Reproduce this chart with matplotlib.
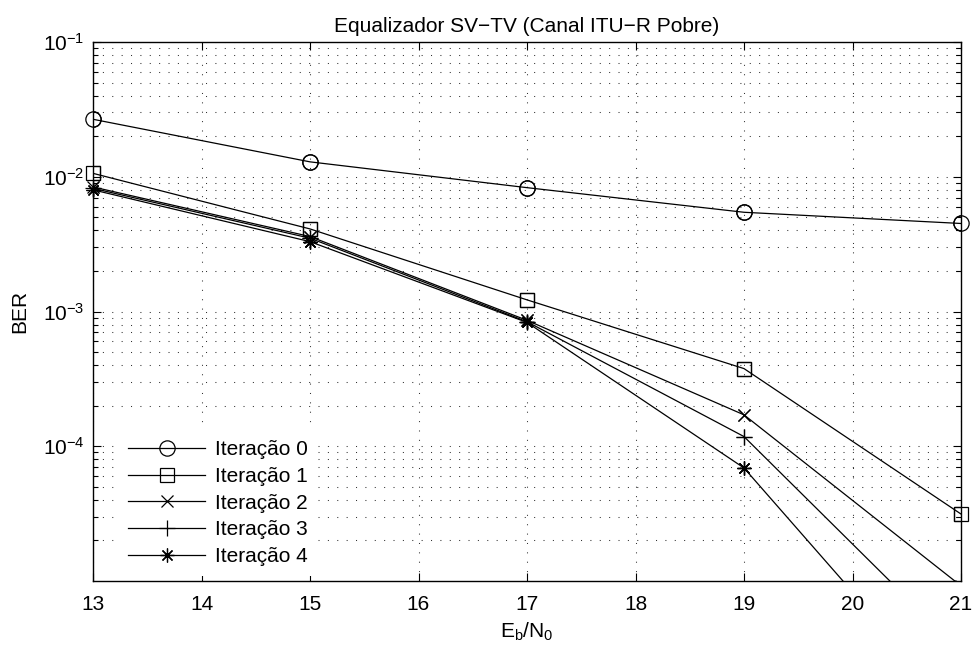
import numpy as np
import matplotlib
matplotlib.use('Agg')
import matplotlib.pyplot as plt
from matplotlib.ticker import LogLocator, FixedLocator, NullFormatter

plt.rcParams['font.family'] = ['Liberation Sans', 'DejaVu Sans']
plt.rcParams['mathtext.fontset'] = 'custom'
plt.rcParams['mathtext.rm'] = 'Liberation Sans'
plt.rcParams['mathtext.it'] = 'Liberation Sans'
plt.rcParams['axes.unicode_minus'] = True

# dados (Eb/N0 em dB, BER por iteracao)
ebn0 = [13, 15, 17, 19, 21]
ber_it0 = [2.67e-2, 1.29e-2, 8.3e-3, 5.45e-3, 4.5e-3]
ber_it1 = [1.06e-2, 4.1e-3, 1.22e-3, 3.77e-4, 3.14e-5]
ber_it2 = [8.4e-3, 3.6e-3, 8.6e-4, 1.71e-4, 9.2e-6]
ber_it3 = [8.2e-3, 3.5e-3, 8.4e-4, 1.18e-4, 3.0e-6]
ber_it4 = [8.0e-3, 3.3e-3, 8.3e-4, 6.9e-5, 1.0e-6]

series = [ber_it0, ber_it1, ber_it2, ber_it3, ber_it4]
labels = ['Iteração 0', 'Iteração 1', 'Iteração 2', 'Iteração 3', 'Iteração 4']
markers = ['o', 's', 'x', '+', (8, 2, 0)]
msizes = [11, 9.5, 8.5, 11, 10]

FS = 15
ymin, ymax = 1e-5, 1e-1

fig = plt.figure(figsize=(9.74, 6.52), dpi=100)
ax = fig.add_axes([93/974, 71/652, 868/974, 539/652])

for y, lab, m, ms in zip(series, labels, markers, msizes):
    # linha (recortada) + marcadores sem recorte, como no MATLAB
    ax.semilogy(ebn0, y, color='k', lw=0.9, marker=m, ms=ms,
                mfc='none', mec='k', mew=0.9, label=lab)
    yv = np.ma.masked_less(np.array(y), ymin)
    ax.semilogy(ebn0, yv, ls='none', marker=m, ms=ms, mfc='none',
                mec='k', mew=0.9, clip_on=False)

ax.set_xlim(13, 21)
ax.set_ylim(ymin, ymax)
ax.set_xticks(range(13, 22))
ax.yaxis.set_major_locator(FixedLocator([1e-4, 1e-3, 1e-2, 1e-1]))
ax.yaxis.set_minor_locator(LogLocator(base=10, subs=np.arange(2, 10)))
ax.yaxis.set_minor_formatter(NullFormatter())

grid_style = dict(color='0.2', linestyle=(0, (1, 8)), linewidth=0.75)
ax.grid(True, which='major', axis='both', **grid_style)
ax.grid(True, which='minor', axis='y', **grid_style)

ax.tick_params(which='both', direction='in', top=True, right=True,
               labelsize=FS, width=0.8)
ax.tick_params(which='major', length=6)
ax.tick_params(which='minor', length=3.5)
ax.tick_params(axis='x', pad=10)
ax.tick_params(axis='y', pad=6)
for s in ax.spines.values():
    s.set_linewidth(1.0)

ax.set_title('Equalizador SV\u2212TV (Canal ITU\u2212R Pobre)', fontsize=FS, pad=7.5)
ax.set_ylabel('BER', fontsize=FS, labelpad=10)
ax.set_xlabel(r'$\mathregular{E_b/N_0}$', fontsize=FS, labelpad=5)

# legenda com fundo branco, sem borda
leg = ax.legend(loc='lower left', bbox_to_anchor=(0.0283, 0.0085),
                frameon=True, facecolor='white', edgecolor='none',
                framealpha=1, fancybox=False,
                fontsize=FS, handlelength=3.7, handletextpad=0.48,
                labelspacing=0.37, borderaxespad=0, borderpad=0.5)

fig.savefig('out.png', dpi=100)
